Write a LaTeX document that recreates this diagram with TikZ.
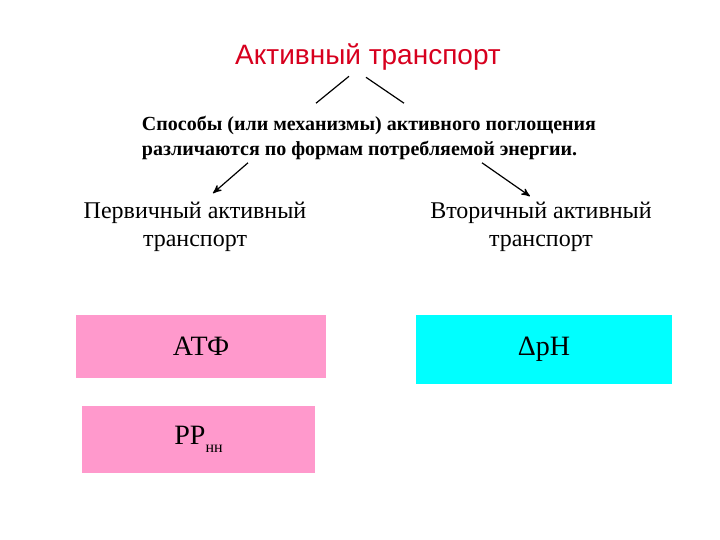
\documentclass[tikz,border=0pt]{standalone}
\usepackage{fontspec}
\setmainfont{Liberation Serif}
\newfontfamily\titlefont{Liberation Sans}
\usetikzlibrary{arrows,positioning}
\definecolor{titlered}{RGB}{215,0,30}
\definecolor{boxpink}{RGB}{255,153,204}
\definecolor{boxcyan}{RGB}{0,255,255}

\begin{document}
\begin{tikzpicture}[x=0.5pt,y=-0.5pt,>=stealth',semithick]
  \tikzstyle{every node}=[inner sep=0pt,outer sep=0pt]
  \tikzstyle{head}=[align=center,font=\fontsize{12}{14}\selectfont]
  \tikzstyle{energy}=[minimum height=31.5pt,font=\fontsize{14}{16}\selectfont]
  \useasboundingbox (0,0) rectangle (720,540);

  \node[text=titlered,font=\titlefont\fontsize{14}{16}\selectfont] (title) at (368,57) {Активный транспорт};
  \node[align=left,font=\bfseries\fontsize{10}{12.5}\selectfont] (ways) at (369,138)
    {Способы (или механизмы) активного поглощения\\различаются по формам потребляемой энергии.};

  \node[head] (prim) at (195,227) {Первичный активный\\транспорт};
  \node[head] (sec) at (541,227) {Вторичный активный\\транспорт};

  \node[energy,fill=boxpink,minimum width=125pt] (atp) at (201,346.5) {АТФ};
  \node[energy,fill=boxcyan,minimum width=128pt,minimum height=34.5pt] (dph) at (544,349.5) {ΔpH};
  \node[energy,fill=boxpink,minimum width=116.5pt,minimum height=33.5pt] (ppn) at (198.5,439.5) {РР\raisebox{-0.6ex}{\fontsize{8}{9}\selectfont нн}};

  \draw ([xshift=-9.5pt,yshift=-3pt]title.south) -- ([xshift=-26.5pt,yshift=6.5pt]ways.north);
  \draw ([xshift=-1pt,yshift=-3.5pt]title.south) -- ([xshift=17.5pt,yshift=6.5pt]ways.north);
  \draw[->] ([xshift=-60.5pt,yshift=-1.5pt]ways.south) -- ([xshift=9pt,yshift=4.5pt]prim.north);
  \draw[->] ([xshift=56.5pt,yshift=-1.5pt]ways.south) -- ([xshift=-5.5pt,yshift=3pt]sec.north);
\end{tikzpicture}
\end{document}
